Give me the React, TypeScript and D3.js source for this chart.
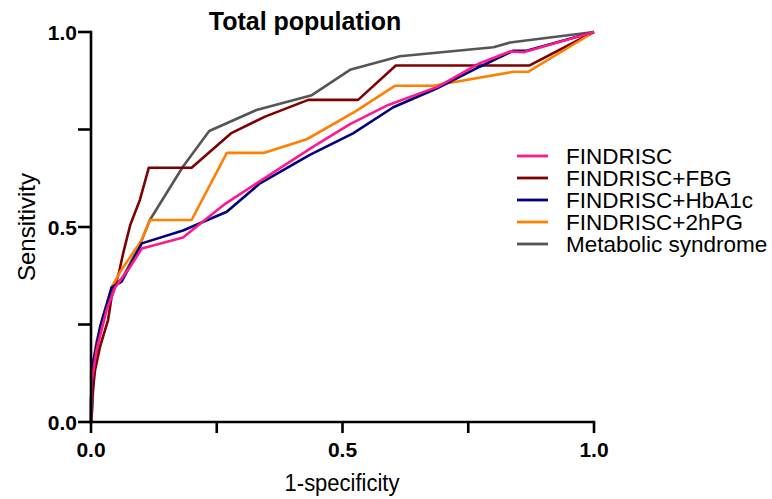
import React from "react";
import * as d3 from "d3";

const W = 772;
const H = 499;

// ROC points (1-specificity, sensitivity)
const findriscX = [0, 0.001, 0.011, 0.031, 0.048, 0.078, 0.101, 0.183, 0.263, 0.329, 0.442, 0.515, 0.591, 0.69, 0.773, 0.833, 0.86, 1];
const findriscY = [0, 0.099, 0.185, 0.287, 0.345, 0.398, 0.445, 0.473, 0.556, 0.612, 0.706, 0.764, 0.813, 0.86, 0.92, 0.95, 0.948, 1];

const fbgX = [0, 0.002, 0.008, 0.018, 0.034, 0.041, 0.056, 0.064, 0.078, 0.097, 0.115, 0.2, 0.278, 0.346, 0.432, 0.531, 0.606, 0.871, 1];
const fbgY = [0, 0.06, 0.133, 0.193, 0.262, 0.321, 0.385, 0.433, 0.505, 0.569, 0.652, 0.652, 0.74, 0.783, 0.826, 0.826, 0.914, 0.914, 1];

const hba1cX = [0, 0, 0.005, 0.018, 0.041, 0.061, 0.101, 0.183, 0.27, 0.336, 0.435, 0.521, 0.601, 0.687, 0.773, 0.84, 0.866, 1];
const hba1cY = [0, 0.056, 0.159, 0.244, 0.345, 0.36, 0.458, 0.491, 0.539, 0.612, 0.685, 0.74, 0.807, 0.855, 0.911, 0.952, 0.952, 1];

const hpgX = [0, 0, 0.001, 0.011, 0.041, 0.058, 0.101, 0.117, 0.2, 0.27, 0.343, 0.429, 0.525, 0.604, 0.68, 0.84, 0.869, 1];
const hpgY = [0, 0.04, 0.125, 0.206, 0.345, 0.385, 0.467, 0.518, 0.518, 0.69, 0.69, 0.725, 0.796, 0.862, 0.862, 0.898, 0.898, 1];

const metsX = [0, 0.003, 0.005, 0.015, 0.024, 0.044, 0.064, 0.097, 0.117, 0.183, 0.235, 0.329, 0.439, 0.515, 0.614, 0.8, 0.833, 1];
const metsY = [0, 0.039, 0.125, 0.21, 0.27, 0.343, 0.373, 0.454, 0.518, 0.655, 0.746, 0.8, 0.838, 0.903, 0.938, 0.961, 0.973, 1];

const seriesNames = ["FINDRISC", "FINDRISC+FBG", "FINDRISC+HbA1c", "FINDRISC+2hPG", "Metabolic syndrome"];
const seriesColors = ["#ff1a8c", "#7f0000", "#000080", "#ff8000", "#555555"];
const seriesX = [findriscX, fbgX, hba1cX, hpgX, metsX];
const seriesY = [findriscY, fbgY, hba1cY, hpgY, metsY];

const majorTicks = [0, 0.5, 1];
const minorTicks = [0.25, 0.75];

const FONT = "'Liberation Sans', Arial, sans-serif";

export default function App() {
  const x = d3.scaleLinear().domain([0, 1]).range([91, 594]);
  const y = d3.scaleLinear().domain([0, 1]).range([422, 32]);

  const line = d3
    .line<[number, number]>()
    .x((d) => x(d[0]))
    .y((d) => y(d[1]));

  // draw order: back to front
  const order = [4, 1, 3, 2, 0];

  return (
    <svg width={W} height={H} style={{ position: "absolute", left: 0, top: 0, background: "#fff" }}>
      <text x={305} y={30} textAnchor="middle" fontFamily={FONT} fontWeight="bold" fontSize={25}>
        Total population
      </text>

      {order.map((i) => (
        <path
          key={seriesNames[i]}
          d={line(seriesX[i].map((v, k) => [v, seriesY[i][k]] as [number, number])) || ""}
          fill="none"
          stroke={seriesColors[i]}
          strokeWidth={2.6}
          strokeLinejoin="round"
        />
      ))}

      {/* y axis */}
      <line x1={x(0)} x2={x(0)} y1={y(1) - 1.2} y2={y(0) + 1.2} stroke="#000" strokeWidth={2.6} />
      {majorTicks.concat(minorTicks).map((t) => (
        <line key={"yt" + t} x1={x(0) - 13} x2={x(0)} y1={y(t)} y2={y(t)} stroke="#000" strokeWidth={2.6} />
      ))}
      {majorTicks.map((t) => (
        <text key={"yl" + t} x={x(0) - 14} y={y(t)} dy="0.36em" textAnchor="end" fontFamily={FONT} fontWeight="bold" fontSize={21}>
          {d3.format(".1f")(t)}
        </text>
      ))}

      {/* x axis */}
      <line x1={x(0) - 1.2} x2={x(1) + 1.2} y1={y(0)} y2={y(0)} stroke="#000" strokeWidth={2.6} />
      {majorTicks.concat(minorTicks).map((t) => (
        <line key={"xt" + t} x1={x(t)} x2={x(t)} y1={y(0)} y2={y(0) + 11} stroke="#000" strokeWidth={2.6} />
      ))}
      {majorTicks.map((t) => (
        <text key={"xl" + t} x={x(t)} y={457} textAnchor="middle" fontFamily={FONT} fontWeight="bold" fontSize={21}>
          {d3.format(".1f")(t)}
        </text>
      ))}

      <text transform="translate(342,491) scale(1,1.1)" textAnchor="middle" fontFamily={FONT} fontSize={22}>
        1-specificity
      </text>
      <text transform={`translate(35,${y(0.5)}) rotate(-90)`} textAnchor="middle" fontFamily={FONT} fontSize={24}>
        Sensitivity
      </text>

      {/* legend */}
      {seriesNames.map((name, i) => (
        <g key={name} transform={`translate(517,${156 + i * 22})`}>
          <line x1={0} x2={31} y1={0} y2={0} stroke={seriesColors[i]} strokeWidth={2.8} />
          <text x={49} y={0} dy="0.36em" fontFamily={FONT} fontSize={22.5}>
            {name}
          </text>
        </g>
      ))}
    </svg>
  );
}
